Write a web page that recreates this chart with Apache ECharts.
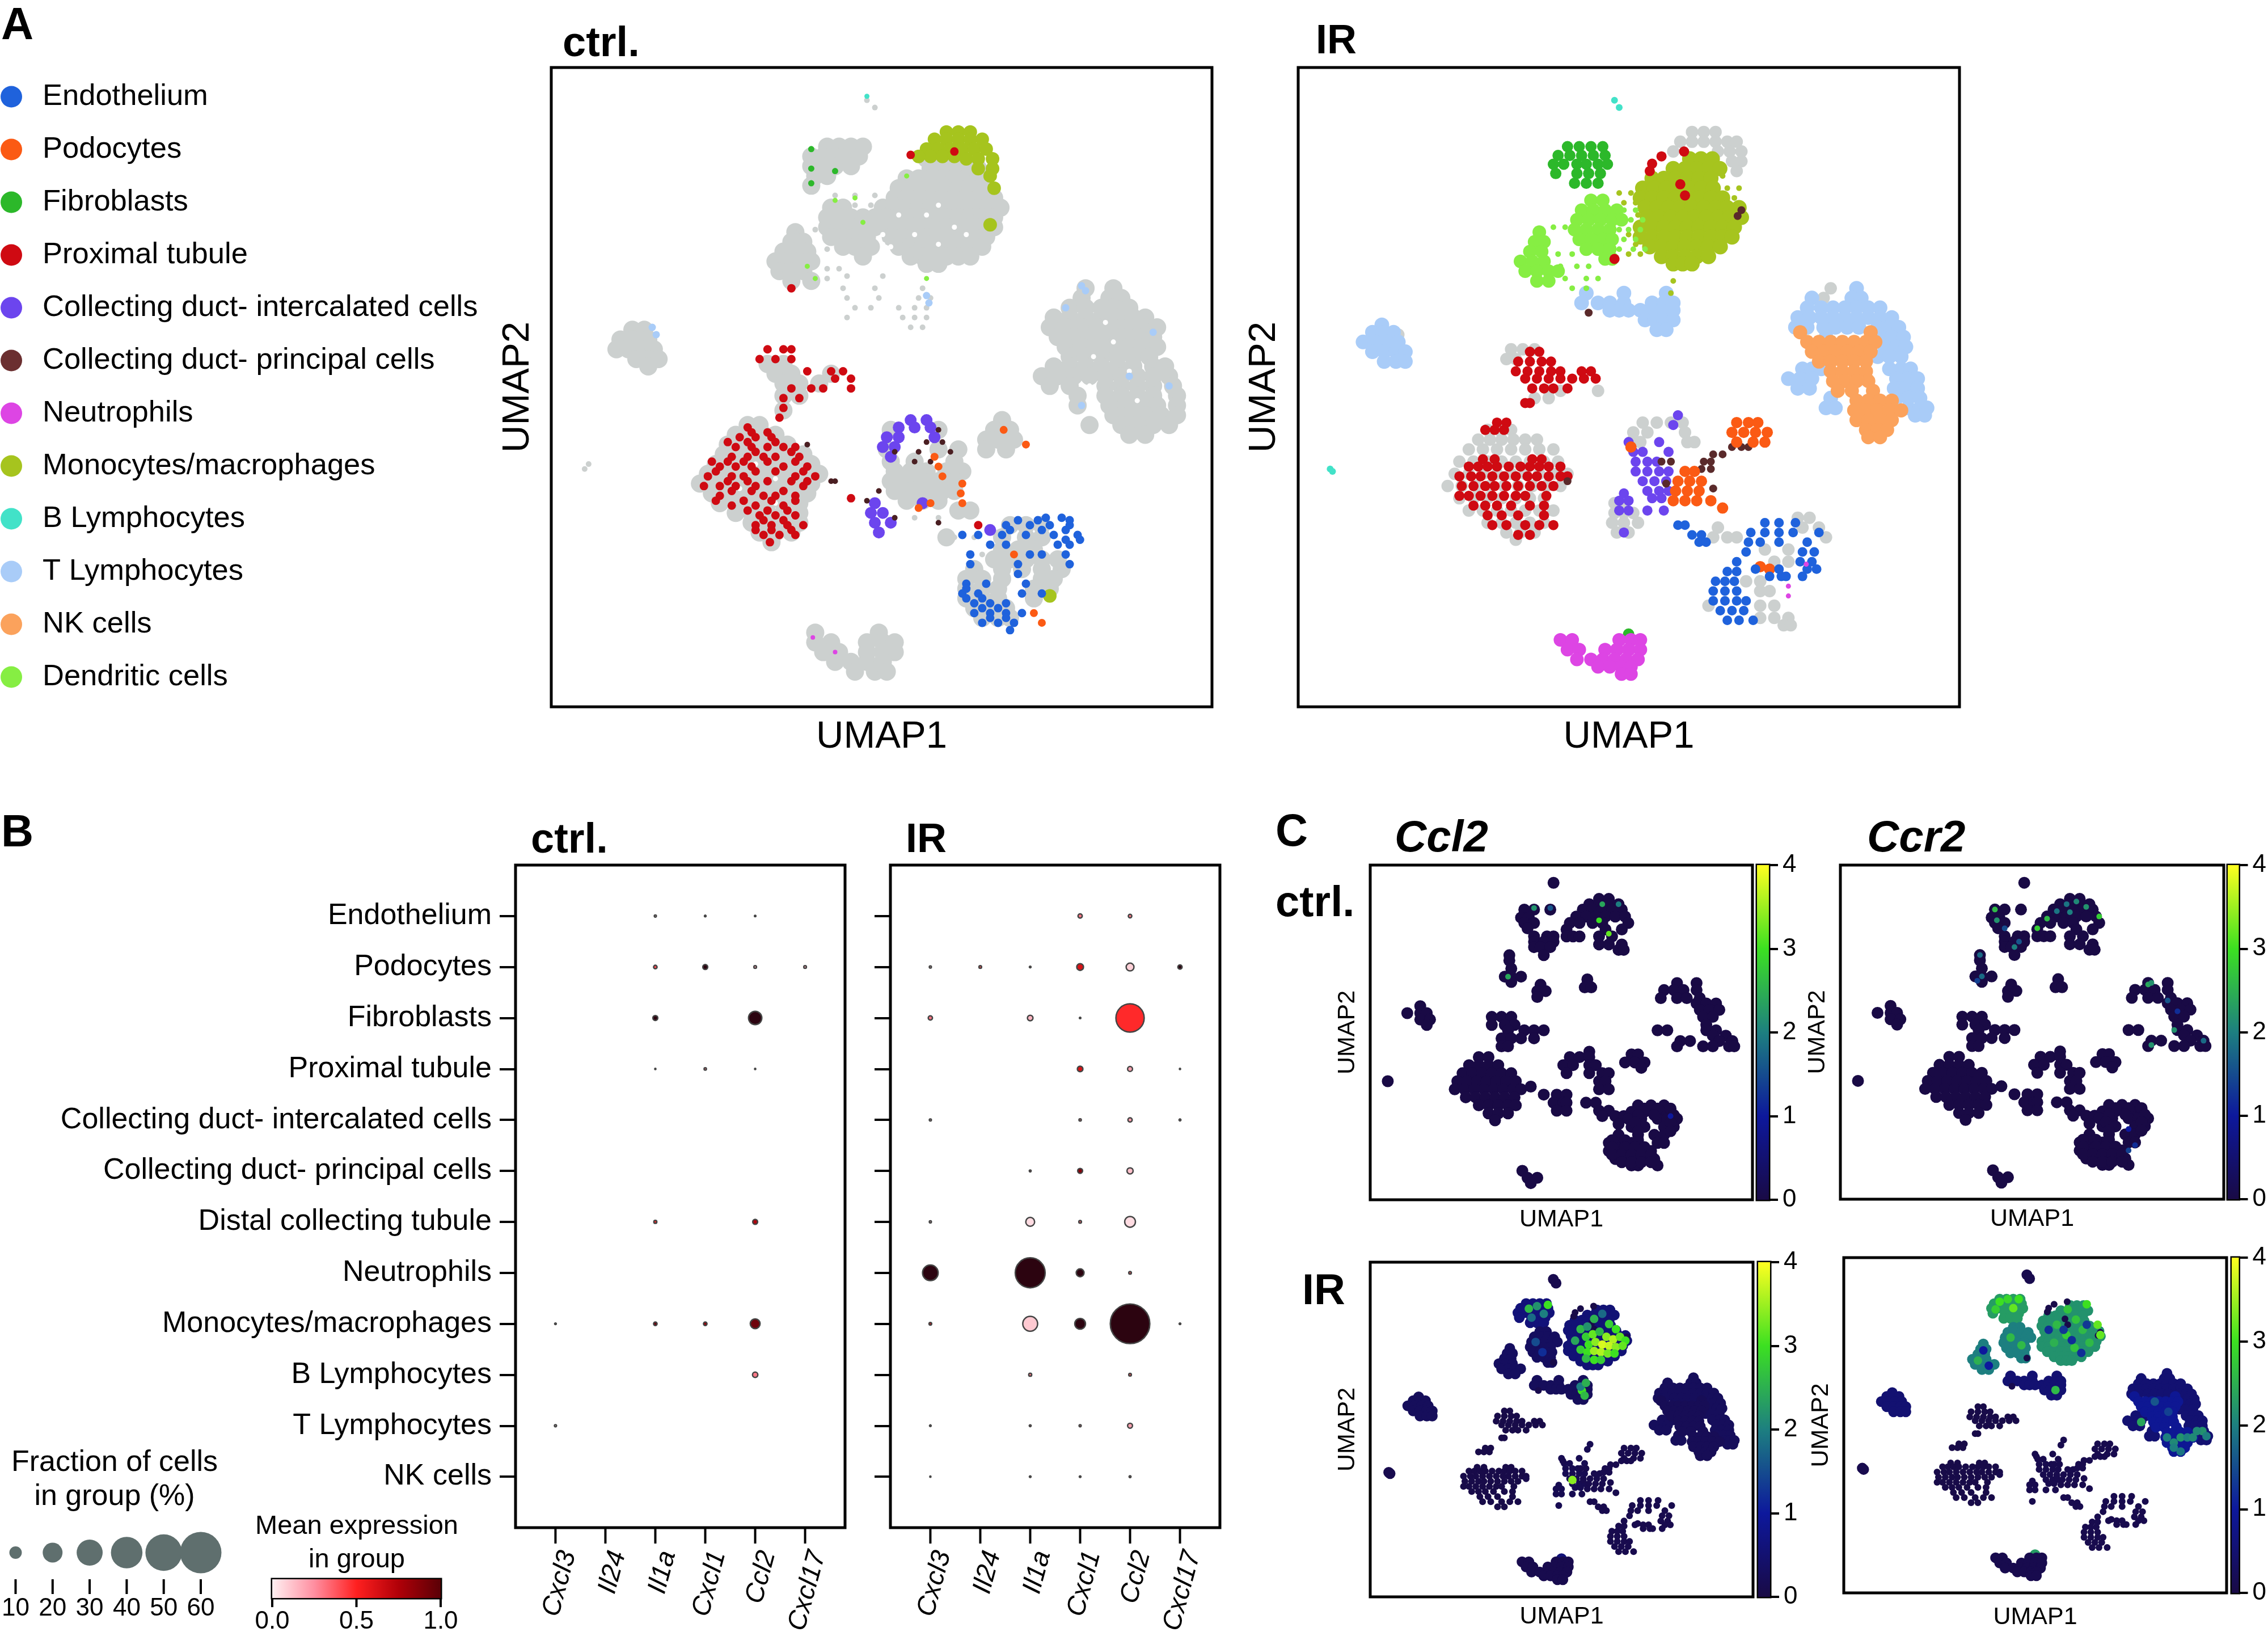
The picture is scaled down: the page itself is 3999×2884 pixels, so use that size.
<!DOCTYPE html>
<html><head><meta charset="utf-8">
<style>html,body{margin:0;padding:0;background:#fff}#c{width:3999px;height:2884px}</style>
<script src="https://cdn.jsdelivr.net/npm/echarts@6/dist/echarts.min.js"></script>
</head><body><div id="c"></div>
<script>
// ---------- labels ----------
const legendNames=['Endothelium','Podocytes','Fibroblasts','Proximal tubule','Collecting duct- intercalated cells','Collecting duct- principal cells','Neutrophils','Monocytes/macrophages','B Lymphocytes','T Lymphocytes','NK cells','Dendritic cells'];
const legendColors=['#1f62dc','#fb5a14','#2cb82a','#cf0a12','#6c45ee','#6b2f30','#dd45e4','#a6c41e','#42e2c8','#a9ccf8','#fba25c','#86ee43'];
const dotRows=['Endothelium','Podocytes','Fibroblasts','Proximal tubule','Collecting duct- intercalated cells','Collecting duct- principal cells','Distal collecting tubule','Neutrophils','Monocytes/macrophages','B Lymphocytes','T Lymphocytes','NK cells'];
const dotGenes=['Cxcl3','Il24','Il1a','Cxcl1','Ccl2','Cxcl17'];
const sizeLegend=[10,20,30,40,50,60];
const exprTicks=[0,.5,1];

// ---------- dot plot: [gene, row, fraction %, mean expression] ----------
const dotCtrl=[[2,0,.7,.05],[3,0,.5,.02],[4,0,.4,.02],[2,1,1.5,.4],[3,1,2.5,1],[4,1,1,.2],[5,1,1,.2],[2,2,2.5,1],[4,2,11,1],[2,3,.3,.01],[3,3,.8,.3],[4,3,.3,.01],[2,6,1.2,.5],[4,6,2.5,.7],[2,8,1.5,.85],[3,8,1.5,.75],[4,8,7,.85],[0,8,.5,.02],[4,9,2.8,.3],[0,10,.7,.05]];
const dotIR=[[3,0,2,.3],[4,0,1.5,.3],[0,1,.7,.1],[1,1,1,.4],[2,1,.5,.1],[3,1,4,.6],[4,1,5,.08],[5,1,2,1],[0,2,2,.3],[2,2,3,.15],[3,2,.4,.1],[4,2,34,.48],[3,3,3,.6],[4,3,2.5,.2],[5,3,.3,.05],[0,4,.7,.1],[3,4,.8,.3],[4,4,2,.2],[5,4,.6,.2],[2,5,.6,.3],[3,5,2.5,.8],[4,5,3.5,.12],[0,6,.7,.1],[2,6,6,.05],[3,6,1,.35],[4,6,8,.05],[0,7,14,1],[2,7,37,1],[3,7,5,1],[4,7,1,.4],[0,8,1,.6],[2,8,13,.1],[3,8,8,1],[4,8,56,1],[5,8,.5,.1],[2,9,1.2,.3],[4,9,1,.4],[0,10,.5,.1],[2,10,.6,.3],[3,10,.7,.3],[4,10,2.5,.2],[0,11,.3,.03],[2,11,.5,.1],[3,11,.5,.1],[4,11,.6,.2]];

// ---------- UMAP cells, ctrl sample: each row is [umap2, umap1, umap1, ...] ----------
const cGrayBlob=[[325,1165,1180,1195,1210],[345,1170,1185,1200,1215,1230],[365,1140,1155,1170,1185,1200,1215,1230],[385,1130,1145,1160,1175,1190,1205,1220,1240],[405,1125,1140,1155,1170,1185,1200,1215,1230,1250],[425,1045,1060,1110,1125,1140,1155,1170,1185,1200,1215,1230,1245,1258],[445,1040,1055,1070,1085,1100,1115,1130,1145,1160,1175,1190,1205,1220,1235,1250],[465,1040,1055,1070,1085,1100,1115,1130,1145,1160,1175,1190,1205,1220,1235,1250],[485,1045,1060,1075,1090,1120,1135,1150,1165,1180,1195,1210,1225,1240],[505,1060,1075,1095,1130,1145,1160,1175,1190,1205,1220,1235],[525,1085,1145,1160,1175,1190,1205,1220],[540,1165,1180],
[300,1040,1055,1070,1085],[320,1020,1035,1050,1065,1080],[340,1020,1035,1050,1070],[360,1025,1040],[380,1020],
[475,1000],[495,995,1010],[515,985,1000,1015],[535,975,990,1005,1020],[555,980,995,1010],[575,995,1020],
[675,795,810],[695,780,795,815],[715,775,790,805,822],[735,800,815,828],[750,815],
[590,1365,1400],[610,1360,1395,1410],[630,1345,1365,1385,1400,1420],[650,1325,1345,1365,1385,1405,1425,1440],[670,1320,1340,1360,1380,1400,1420,1440,1455],[690,1330,1350,1370,1390,1410,1430,1450],[710,1340,1360,1380,1400,1420,1440,1455],[730,1345,1365,1385,1405,1425,1445],[750,1325,1345,1365,1385,1405,1425,1450,1465],[770,1310,1330,1350,1370,1390,1410,1430,1450,1470],[790,1320,1345,1390,1410,1430,1450,1475],[810,1355,1390,1410,1430,1450,1480],[830,1355,1395,1415,1435,1455,1480],[850,1400,1420,1440,1460,1480],[870,1370,1410,1430,1450,1470],[890,1420,1440],
[870,940,955],[890,925,940,960,975],[910,915,935,955,975,990],[930,910,930,950,970,990,1010],[950,900,920,940,960,980,1000,1020],[970,890,910,930,950,970,990,1010,1030],[990,880,900,920,940,960,980,1000,1020],[1010,895,915,935,955,975,995,1015],[1030,905,925,945,965,985,1005],[1050,925,945,965,985,1005],[1070,945,965,985,1005],[1090,955,975,995],[1110,970],
[745,965,985],[765,975,995,1045],[785,985,1005,1030],[810,985,1005],[840,985],
[880,1120,1180],[920,1115,1180,1205],[945,1120,1150,1200],[965,1125,1145,1165,1190,1210],[985,1120,1140,1160,1180,1200],[1005,1125,1145,1165,1185,1200],[1025,1140,1160,1180],[1045,1205,1220],[860,1260],[880,1250,1270],[900,1240,1255,1275],[920,1240,1265],
[1075,1270,1290,1310],[1100,1190,1260,1290,1310],[1125,1260,1280,1300],[1145,1250,1270,1290,1310,1330],[1165,1225,1260,1285,1310,1335],[1185,1215,1235,1260,1310,1325],[1205,1215,1235,1255,1300,1320],[1225,1215,1235,1255,1300],[1245,1225,1245,1265],[1265,1235,1255,1270],
[1295,1025,1105],[1315,1025,1045,1090,1110,1125],[1335,1035,1055,1090,1110,1125],[1355,1050,1070,1090,1110],[1375,1075,1100,1115]];
const cHoles=[[420,1180],[440,1130,1165],[465,1200],[480,1110,1150,1215],[500,1110,1180],[505,1120],[700,1400],[730,1375],[760,1420],[790,1370],[820,1430],[660,1390],[980,975],[1000,930],[950,950],[1030,975]];
const cGraySmall=[[205,1090],[220,1100],[400,1050,1075,1100],[420,1050,1075,1095],[470,1005,1025],[510,1040],[550,1040,1055],[570,1040],[565,1065,1110],[590,1060,1100,1160],[610,1065,1105,1155,1170],[630,1075,1095,1130,1150,1165],[650,1065,1135,1150,1165],[670,1145,1160],[960,735],[950,740],[1060,1150,1180],[1100,1200,1225],[1135,1235],[1215,1290]];
const cTeal=[[197,1090]];
const cT=[[585,1360],[595,1365],[630,1340],[680,1450],[770,1420],[790,1470],[830,1360],[670,820],[685,825],[605,1165],[620,1168]];
const cMono=[[270,1190,1205,1220],[285,1175,1190,1205,1220,1235],[305,1165,1180,1195,1210,1225,1240],[320,1170,1185,1200],[325,1215,1230,1248],[345,1230,1248],[360,1245],[320,1155],[385,1250],[460,1245],[1220,1320]];
const cFib=[[305,1020],[345,1020],[375,1020],[350,1050]];
const cDend=[[410,1050],[405,1075],[455,1085],[545,1015],[570,1025],[570,1165],[360,1140]];
const cPT=[[875,940],[895,930,950,970],[915,925,945,965,985,1000],[935,920,940,960,975,1005],[955,905,925,945,985,1015],[975,890,920,935,1000,1025],[995,885,905,925,950,1010],[1015,905,960,975,1000],[1035,920,950,985],[1055,955,975,1000],[1075,950,970,990,1010],[1095,960,980,1000],[1110,968],
[885,945,965],[905,915,940,975],[925,950,995],[945,895,915,935,965,1000],[965,900,950,975,1010],[985,915,940,965,995,1015],[1005,920,945,985],[1025,900,935,970,1000],[1045,940,965,990],[1065,960,985],[1085,950,970,995],
[715,965,985,995],[735,955,975,995],[760,1015,1045,1060],[775,1050,1070],[795,995,1020,1035,1070],[815,985,1005],[835,985],[855,980],[317,1145],[310,1200],[590,995],[1020,1070],[1075,1230]];
const cCDi=[[860,1145,1165],[875,1130,1150,1170],[895,1115,1130,1175],[915,1110,1125],[935,1120],[1030,1100],[1050,1095,1110],[1070,1100,1120],[1090,1105],[1085,1245],[1030,1160]];
const cCDp=[[905,1165,1185],[925,1125,1155,1195],[945,1150,1170],[985,1045,1050],[1005,1105],[1025,1090],[880,1180],[1070,1180],[1060,1125],[910,1015]];
const cPod=[[935,1175],[955,1180],[975,1185],[990,1210],[1010,1208],[1030,1170,1210],[1040,1155],[910,1290],[880,1262],[1255,1300],[1275,1310],[1135,1275]];
const cEndo=[[1060,1315,1335],[1075,1265,1295,1320,1345],[1095,1210,1230,1260,1290,1325,1355],[1115,1245,1265,1330,1345],[1135,1220,1295,1310,1340],[1155,1220,1280,1345],[1175,1280],[1195,1215,1240,1290],[1215,1210,1230,1285,1310],[1235,1225,1245,1265],[1255,1225,1245,1265,1285],[1275,1235,1255,1275],[1290,1270],
[1065,1280,1305,1345],[1085,1270,1310,1340],[1105,1340,1358],[1225,1215,1235],[1245,1235,1255],[1265,1245,1265],[1205,1215]];
const cNeut=[[1305,1022],[1335,1050]];

// ---------- UMAP cells, IR sample ----------
const iGrayBlob=[[270,945,970,995],[290,920,945,970,995,1020,1040],[310,905,1000,1025,1050],[330,1030,1050],[350,1040],[685,320],[715,560,585,610],[735,550,570],[800,640,665,745],[815,610,640],[880,510,535,560],[900,490,515,540,565,590,615],[920,470,500,530,560,590,620,650],[945,450,480,510,540,570,600,630,660],[970,440,470,500,530,560,590,620,650,680],[995,425,455,485,515,545,575,605,635,665],[1020,450,480,510,540,570,600,630],[1045,470,500,530,560,590,620,650],[1070,510,540,570,600,630],[1090,550,580,610],[1105,570],[865,840,870,900,925],[885,820,850,930],[905,815,835,935,950],[1030,780,800],[1050,780,800,820],[1070,775,800,830],[1090,785,810],[1060,1170,1195],[1080,1180,1215],[1100,1040,1230],[1125,1100,1150],[1150,1120,1150],[1190,1060,1090],[1210,1090,1110],[1240,1090,1120],[1265,1090,1120,1150],[1280,1140,1155],[1240,980],[1100,990,1020],[1080,1000],[590,1240],[610,1225]];
const iTeal=[[205,780],[220,790],[960,175],[965,180]];
const iT=[[590,1295],[610,1285,1305,1200],[630,1190,1220,1245,1270,1295,1320,1345],[650,1170,1195,1220,1245,1270,1295,1320,1345,1370],[670,1165,1190,1225,1250,1275,1300,1340,1365,1385],[690,1230,1345,1370,1395],[710,1355,1380,1400],[730,1340,1365,1390],[755,1180,1200,1220,1365,1390,1410],[775,1150,1175,1200,1380,1405,1425],[795,1170,1195,1375,1400,1425],[815,1240,1380,1405,1430],[835,1230,1250,1405,1430,1445],[850,1420,1440],
[665,285],[680,265,290,310],[700,245,270,295,320],[720,265,290,315,335],[740,290,315,335],
[600,720,800,890],[620,710,745,770,800,860,885,905],[635,770,790,810,835,860,880,905],[655,845,865,885,905],[675,870,890]];
const iNK=[[680,1175,1325],[700,1190,1215,1240,1265,1290,1315,1335],[720,1200,1225,1250,1275,1300,1325],[740,1215,1240,1265,1290,1315],[760,1240,1265,1290,1315],[780,1245,1270,1295,1320],[800,1255,1285,1330],[820,1295,1320,1345,1370],[840,1290,1315,1340,1365,1390],[860,1295,1320,1345,1370],[880,1315,1340,1360],[895,1320,1345]];
const iMono=[[325,940,964,988],[345,905,930,955,980,1004],[365,860,885,910,935,960,985],[385,840,865,890,915,940,965,990],[405,835,860,885,910,935,960,985,1010],[425,845,870,895,920,945,970,995,1020,1045],[445,850,875,900,925,950,975,1000,1025,1050],[465,835,860,885,910,935,960,985,1010,1035],[485,835,860,885,910,935,960,985,1010,1030],[505,855,880,905,930,955,980,1005],[525,880,905,930,955,980],[540,905,925,945]];
const iMonoSparse=[[360,1010],[385,1020,1045],[405,1035],[575,905],[600,900],[395,790,815],[415,800,825],[440,830],[480,810],[500,825],[520,810,835]];
const iFib=[[300,680,705,730,755],[318,660,685,710,735,760],[336,650,672,700,720,745,765],[355,655,700,725,750],[375,695,720,745],[1298,810]];
const iDend=[[410,730,755],[430,710,735,760,785],[450,700,725,750,775,795],[470,695,720,745,770],[490,705,730,755,775],[510,720,745,770],[530,760,775],[475,620],[495,610,630],[515,600,625],[535,580,605,630],[555,590,615,640,660],[575,615,640]];
const iDendSparse=[[430,800,825],[450,790,815,840],[470,790,810,835],[490,800,825],[510,790,820,845],[545,665,700,725],[570,675,720,745],[590,690,720],[465,650,675],[520,660,690]];
const iPT=[[720,600,620],[740,575,600,625,645],[760,570,595,620,645,665,710,730],[775,590,615,640,665,690,715,740],[795,605,630,650,680],[825,590,600],[865,530,550],[880,505,525,545],[940,500,525,605,625],[955,470,490,510,530,555,580,600,620,640,665],[975,450,475,495,520,545,570,595,615,640,665,680],[995,455,480,505,525,550,575,600,625,650],[1015,450,470,495,520,545,570,590,635],[1035,480,505,530,560,600,630],[1055,510,540,575,630],[1075,520,550,590,620,650],[1095,575,600],[320,880],[335,860],[350,855],[310,928],[377,920],[400,930],[530,780]];
const iCDi=[[850,915],[870,905],[905,810,875],[925,820,840,895],[945,825,850,870],[965,825,850,875,895],[985,840,865,890],[1005,850,875,895],[1020,860,880],[1010,800],[1025,790,810],[1045,790,810,850,885],[1090,800]];
const iCDp=[[915,1030,1050,1065],[930,990,1010],[945,970,985],[960,965,985],[945,880,900],[990,890],[1000,990],[430,1050],[442,1042],[640,725],[985,680]];
const iPod=[[865,1040,1065,1085],[885,1030,1055,1080,1105],[905,1040,1075,1100],[965,930,950],[985,915,940,965],[1005,910,935,960],[1025,905,930,955],[1040,1010],[1025,985],[915,815],[1160,1090],[1165,1110]];
const iEndo=[[1150,1040],[1170,1020,1040],[1190,995,1015,1035],[1210,990,1015,1040],[1230,990,1015,1040,1060],[1250,1005,1030,1055],[1270,1020,1045,1075],[1070,1100,1130,1165],[1090,1070,1100,1130,1160,1215],[1110,1065,1090,1130,1190],[1130,1060,1180,1205],[1150,1175,1200],[1165,1080,1130,1190,1210],[1180,1110,1135,1145,1180],[1095,945,965],[1075,915,930],[1110,960,975]];
const iNeut=[[1310,665,690,790,815,835],[1330,680,705,760,785,810,835],[1350,700,730,755,780,805,830],[1365,745,770,795,815],[1380,795,815]];
const iNeutSmall=[[1155,1188],[1200,1150],[1220,1150]];

// ---------- panel C, ctrl cells (both genes) ----------
const ctrlCells=[[165,470],[195,540,555],[205,525,540,555,570],[215,515,530,545,560,575],[228,505,520,535,550,565,580],[240,495,510,530,545,585],[252,490,550,575],[265,490,500,510,540,560],[280,540,555,575],[290,570,578],[215,425,440,465],[230,420,432],[240,425,440],[250,430],[265,440,460,470],[275,440,455,470],[285,440,450,465],[300,402,455],[310,402],[325,405],[340,395,405,420],[350,405],[355,450],[367,445,458],[378,445],[345,522],[360,518,528],[352,660,690],[365,640,655,670,690],[380,635,660,675,695],[390,690,705,720],[402,695,710,725],[415,700,715],[430,705],[440,630,645,705,720],[450,715,735],[460,665,680,725,745],[470,660,700,715,740,748],[395,265],[408,245,265,275],[420,265,280],[430,275],[415,375,390,405],[430,375,395,410],[440,400,425,440,455],[455,390,405,420,440],[470,390,400],[490,355,370],[505,340,355,370,385],[520,330,345,360,375,390,405],[535,322,337,352,367,382,397,412,215],[550,318,333,348,363,378,393,408,420],[565,335,350,365,380,395,410],[580,355,370,385,400,412],[595,370,385,400],[608,380],[545,435],[560,455],[480,525],[490,495,510,525],[505,485,500,525,535],[520,490,525,545,555],[535,540,550],[550,540,555],[485,590,600],[500,580,595,610],[510,605],[560,475,490],[575,470,485,490,520,535],[590,475,490,540,555],[600,545,565,578],[615,570],[580,600,620,640],[592,590,610,635,650],[605,585,605,630,645,660],[620,590,610,640,655],[635,570,600,625,640],[650,555,570,590,630,640],[665,555,570,585,600,620],[680,565,580,595,610,625],[692,590,600,630],[702,422],[715,430,445],[725,435],
[645,560,580,600],[658,560,580,595,610],[672,560,575,590,605,620],[686,575,590,605,620],[586,610,630,650],[598,600,625,655],[612,595,650],[628,600,650]];
// highlighted cells: [umap1, umap2, expression]
const ccl2CtrlHot=[[545,205,2.4],[570,205,2],[540,235,3],[555,260,3.2],[400,340,2.4],[440,212,2.2],[465,212,1.6],[650,600,1]];
const ccr2CtrlHot=[[535,205,1.9],[550,200,2.1],[565,210,2.2],[520,218,1.9],[540,220,2],[505,232,2.6],[490,250,2.8],[585,228,2.8],[425,215,2.6],[428,235,2.2],[440,250,1.5],[462,275,1.6],[455,285,2],[402,300,1.8],[405,340,1.8],[398,348,1.4],[660,355,2.4],[665,352,2.2],[690,385,1.6],[705,405,1.2],[700,440,2.2],[665,468,2.2],[745,460,1.8],[630,625,1],[640,655,1.2],[630,665,1.4]];
// per-population expression in panel C, IR sample
const irPops=['b','t','nk','mono','fib','dend','pt','cdi','cdp','pod','endo','neut'];
const ccl2Levels=[.1,.25,.2,.55,.6,.3,.05,.15,.1,.1,.1,.1];
const ccr2Levels=[.1,.5,.9,2.2,2.3,2,.05,.1,.1,.1,.1,.1];
const ccl2IRHot=[[880,400,2.6],[905,390,2.2],[930,360,2.5],[960,340,1.8],[985,380,2.8],[1010,400,3],[900,430,2.8],[925,420,3.2],[950,410,2.6],[975,430,3.4],[1000,440,3.6],[1025,430,3.2],[1045,445,3],[910,460,3],[935,450,3.4],[960,460,3.8],[985,465,3.7],[1010,470,3.4],[1035,465,3.2],[880,480,2.8],[905,490,3],[930,485,3.5],[955,490,3.6],[980,495,3.3],[1005,495,3],[900,515,2.6],[930,520,3],[955,520,2.8],[860,445,2.4],[690,320,2.6],[720,310,2.2],[760,305,3],[745,340,2],[700,355,1.8],[885,640,3],[895,660,2.6],[880,625,2],[900,610,2.5],[715,450,1.5],[740,490,1.2],[850,990,3.4]];
const ccr2IRHot=[[930,340,2.7],[1000,320,3],[1040,400,3.2],[1050,440,3.2],[890,400,2.6],[960,380,2.7],[985,420,2.6],[925,440,2.8],[880,470,2.5],[955,490,2.7],[1010,470,2.6],[860,420,1.2],[915,420,1.3],[945,460,1.2],[1000,400,1.3],[980,510,1.2],[680,310,3],[710,300,2.9],[750,300,3],[730,335,3.2],[665,340,2.8],[720,450,2.6],[760,480,2.6],[600,540,2.5],[640,560,1],[620,500,1],[1295,840,2],[1320,860,2.1],[1345,840,2.2],[1370,840,2],[1320,880,2],[1345,895,1.9],[1390,840,2.1],[1425,815,2.2],[1440,835,2],[1405,815,2.1],[1200,780,2.4],[1250,700,1.6],[1300,740,1.4],[885,655,2.6]];

// ---------- helpers ----------
const FONT='"Liberation Sans",Arial,sans-serif';
const rows=a=>a.flatMap(r=>r.slice(1).map(x=>[x,r[0]]));
const grids=[],xAxes=[],yAxes=[],series=[],titles=[];
function addGrid(g,x,y){const i=grids.length;grids.push(g);xAxes.push(Object.assign({gridIndex:i},x));yAxes.push(Object.assign({gridIndex:i},y));return i;}
function box(l,t,r,b){return {show:true,left:l,top:t,width:r-l,height:b-t,borderColor:'#000',borderWidth:5,backgroundColor:'transparent'};}
function umapAxis(min,max,name,fs,gap,inv){return {type:'value',min,max,inverse:!!inv,axisLine:{show:false,onZero:false},axisTick:{show:false},axisLabel:{show:false},splitLine:{show:false},name,nameLocation:'middle',nameGap:gap,nameTextStyle:{fontFamily:FONT,fontSize:fs,color:'#000'}};}
function addTitle(text,left,top,fs,style){titles.push({text,left,top,padding:0,textStyle:{fontFamily:FONT,fontSize:fs,fontWeight:'bold',fontStyle:style==='italic'?'italic':'normal',color:'#000'}});}
function addCentre(text,left,top,fs){titles.push({text,left,top,textAlign:'center',padding:0,textStyle:{fontFamily:FONT,fontSize:fs,fontWeight:'normal',color:'#000'}});}
function pts(i,data,color,size){series.push({type:'scatter',xAxisIndex:i,yAxisIndex:i,data:rows(data),symbolSize:size,itemStyle:{color,opacity:1},silent:true,animation:false});}
// ticks below a frame, placed on the x scale of that grid
function xTicks(i,values,yCentre,len){series.push({type:'scatter',xAxisIndex:i,yAxisIndex:i,clip:false,silent:true,animation:false,symbol:'rect',symbolSize:[4,len],itemStyle:{color:'#000',opacity:1},data:values.map(v=>[v,yCentre])});}

// ---------- legend A ----------
{const i=addGrid({left:20,top:124,width:120,height:1116},{type:'value',min:0,max:100,show:false},{type:'category',data:legendNames,inverse:true,show:false});
 series.push({type:'scatter',xAxisIndex:i,yAxisIndex:i,clip:false,symbolSize:38,animation:false,silent:true,
  data:legendNames.map((n,k)=>({value:[0,n],name:n,itemStyle:{color:legendColors[k],opacity:1}})),
  label:{show:true,position:'right',distance:36,formatter:'{b}',fontFamily:FONT,fontSize:52.5,color:'#000',opacity:1}});}

// ---------- panel A ----------
const G='#ccd0cf';
{const i=addGrid(box(972,119,2137,1246),umapAxis(693,1524,'UMAP1',67,20),umapAxis(138,1447,'UMAP2',67,25,true));
 pts(i,cGrayBlob,G,32);pts(i,cGraySmall,G,10);pts(i,cHoles,'#fff',9);
 [[cTeal,'#42e2c8',9],[cT,'#a9ccf8',13],[cMono,'#a6c41e',24],[cFib,'#2cb82a',11],[cDend,'#86ee43',9],[cPT,'#cf0a12',15],[cCDi,'#6c45ee',21],[cCDp,'#4a1f22',10],[cPod,'#fb5a14',14],[cEndo,'#1f62dc',15],[cNeut,'#dd45e4',8]].forEach(s=>pts(i,s[0],s[1],s[2]));}
{const i=addGrid(box(2289,119,3455,1246),umapAxis(107,1514,'UMAP1',67,20),umapAxis(138,1447,'UMAP2',67,26,true));
 pts(i,iGrayBlob,G,22);
 [[iT,'#a9ccf8',26],[iNK,'#fba25c',25],[iMono,'#a6c41e',27],[iMonoSparse,'#a6c41e',10],[iFib,'#2cb82a',20],[iDend,'#86ee43',24],[iDendSparse,'#86ee43',10],[iPT,'#cf0a12',18],[iCDi,'#6c45ee',18],[iCDp,'#5a2a2b',14],[iPod,'#fb5a14',20],[iEndo,'#1f62dc',17],[iNeut,'#dd45e4',24],[iNeutSmall,'#dd45e4',9],[iTeal,'#42e2c8',12]].forEach(s=>pts(i,s[0],s[1],s[2]));}

// ---------- panel B ----------
// y runs upward from 0 at the frame's bottom (row r is drawn at 12-r)
function dotSize(f){return 73*Math.pow(f/60,.67);}
const dotSeriesIdx=[];
function dotPanel(l,r,data,showNames){
 const ticks=dotRows.map((_,k)=>12-k),cols=dotGenes.map((_,k)=>k);
 const i=addGrid(box(l,1525,r,2693),
 {type:'value',min:-.8,max:5.8,splitLine:{show:false},axisLine:{show:false},axisTick:{show:false},
  axisLabel:{customValues:cols,rotate:75,margin:36,align:'right',verticalAlign:'top',fontFamily:FONT,fontStyle:'italic',fontSize:47,color:'#000',formatter:v=>dotGenes[v]}},
 {type:'value',min:0,max:13,splitLine:{show:false},axisLine:{show:false,onZero:false},axisTick:{show:true,length:28,lineStyle:{color:'#000',width:4},customValues:ticks},
  axisLabel:{show:showNames,customValues:ticks,margin:42,fontFamily:FONT,fontSize:52,color:'#000',formatter:v=>dotRows[12-v]}});
 dotSeriesIdx.push(series.length);
 series.push({type:'scatter',xAxisIndex:i,yAxisIndex:i,data:data.map(d=>[d[0],12-d[1],d[2],d[3]]),animation:false,silent:true,symbolSize:v=>dotSize(v[2]),itemStyle:{borderColor:'#444',borderWidth:2.5,opacity:1}});
 xTicks(i,cols,-.156,28);
}
dotPanel(909,1490,dotCtrl,true);dotPanel(1570,2151,dotIR,false);

// size legend
{const i=addGrid({left:25,top:2690,width:329,height:94},
 {type:'value',min:10,max:60,interval:10,splitLine:{show:false},axisLine:{show:false},axisTick:{show:false},axisLabel:{margin:30,fontFamily:FONT,fontSize:44,color:'#000'}},
 {type:'value',min:0,max:2,show:false});
 series.push({type:'scatter',xAxisIndex:i,yAxisIndex:i,clip:false,animation:false,silent:true,data:sizeLegend.map(v=>[v,1]),symbolSize:v=>dotSize(v[0]),itemStyle:{color:'#5f6f6e',opacity:1}});
 xTicks(i,sizeLegend,-.277,26);}
// mean expression bar: the gradient sits in a frame, its scale on a value axis just below
const redStops=['#fff0f2','#ff8ea0','#ff2020','#9a0008','#2c0410'];
function grad(cols,h){return new echarts.graphic.LinearGradient(0,h?0:1,h?1:0,0,cols.map((c,k)=>({offset:k/(cols.length-1),color:c})));}
{const i=addGrid(box(480,2784,777,2817),{type:'value',min:0,max:1,show:false},{type:'category',data:[''],show:false});
 series.push({type:'bar',xAxisIndex:i,yAxisIndex:i,data:[1],barWidth:'100%',animation:false,silent:true,itemStyle:{color:grad(['#fff0f2','#ff8ea0','#ff2020','#b00008','#5a0006'],true)}});
 const j=addGrid({left:480,top:2787,width:297,height:30},
 {type:'value',min:0,max:1,interval:.5,splitLine:{show:false},axisLine:{show:false},axisTick:{show:false},axisLabel:{margin:20,fontFamily:FONT,fontSize:44,color:'#000',formatter:v=>v.toFixed(1)}},
 {type:'value',min:0,max:1,show:false});
 xTicks(j,exprTicks,-.27,16);}

// ---------- panel C ----------
const cellIdx=[];
const viridisLike=['#190a45','#0d189c','#1d7f80','#3ce021','#ffff20'];
function cells(i,data,size){cellIdx.push(series.length);series.push({type:'scatter',xAxisIndex:i,yAxisIndex:i,data,symbolSize:size,animation:false,silent:true,itemStyle:{opacity:1}});}
function colorbar(l,t,r,b){const i=addGrid(box(l,t,r,b),{type:'category',data:[''],show:false},
 {type:'value',min:0,max:4,interval:1,position:'right',splitLine:{show:false},axisLine:{show:false,onZero:false},axisTick:{show:true,length:16,lineStyle:{color:'#000',width:4}},axisLabel:{margin:24,fontFamily:FONT,fontSize:44,color:'#000'}});
 series.push({type:'bar',xAxisIndex:i,yAxisIndex:i,data:[4],barWidth:'100%',animation:false,silent:true,itemStyle:{color:grad(viridisLike,false)}});}
const ctrlBase=rows(ctrlCells).map(p=>[p[0],p[1],0]);
function cCtrl(l,t,r,b,hot){const i=addGrid(box(l,t,r,b),umapAxis(188,776,'UMAP1',43,14),umapAxis(132,756,'UMAP2',43,18,true));cells(i,ctrlBase,21);cells(i,hot,10);}
const irArrays=[iTeal,iT,iNK,iMono,iFib,iDend,iPT,iCDi,iCDp,iPod,iEndo,iNeut];
function cIR(l,t,r,b,levels,hot,gap){const i=addGrid(box(l,t,r,b),umapAxis(107,1514,'UMAP1',43,gap),umapAxis(138,1447,'UMAP2',43,18,true));
 irArrays.forEach((a,k)=>cells(i,rows(a).map(p=>[p[0],p[1],levels[k]]),k<6||k==11?19:12));cells(i,hot,15);}
cCtrl(2416,1525,3090,2115,ccl2CtrlHot);colorbar(3098,1525,3119,2115);
cCtrl(3245,1525,3921,2114,ccr2CtrlHot);colorbar(3928,1525,3949,2114);
cIR(2416,2225,3091,2815,ccl2Levels,ccl2IRHot,14);colorbar(3100,2225,3121,2815);
cIR(3251,2217,3926,2808,ccr2Levels,ccr2IRHot,22);colorbar(3935,2217,3956,2808);

// ---------- text ----------
addTitle('A',2,8,79);addTitle('ctrl.',992,42,74);addTitle('IR',2320,38,72);
addTitle('B',2,1431,79);addTitle('ctrl.',936,1446,74);addTitle('IR',1597,1446,72);
addTitle('C',2249,1430,79);addTitle('Ccl2',2459,1440,78,'italic');addTitle('Ccr2',3292,1440,78,'italic');
addTitle('ctrl.',2249,1556,76);addTitle('IR',2296,2240,76);
addCentre('Fraction of cells',202,2553,52);addCentre('in group (%)',202,2613,52);
addCentre('Mean expression',629,2668,47);addCentre('in group',629,2727,47);

const chart=echarts.init(document.getElementById('c'),null,{renderer:'canvas'});
chart.setOption({animation:false,backgroundColor:'#fff',title:titles,grid:grids,xAxis:xAxes,yAxis:yAxes,series,
 visualMap:[
  {show:false,type:'continuous',min:0,max:1,dimension:3,seriesIndex:dotSeriesIdx,inRange:{color:redStops}},
  {show:false,type:'continuous',min:0,max:4,dimension:2,seriesIndex:cellIdx,inRange:{color:viridisLike}}
 ]});
</script></body></html>
